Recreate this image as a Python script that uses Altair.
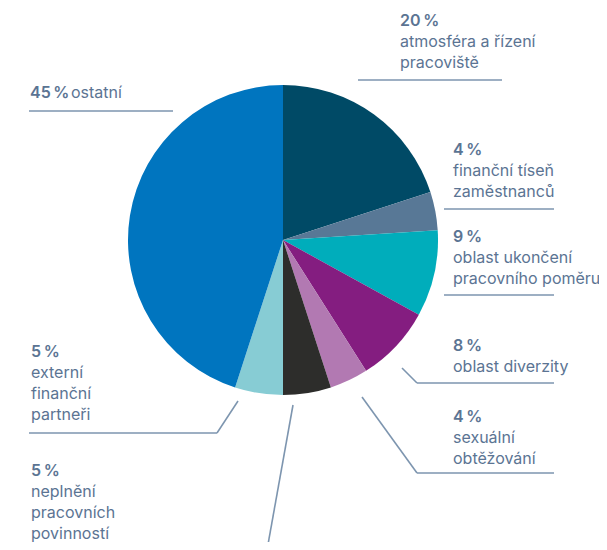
import altair as alt
import pandas as pd

# ---- data ----
categories = [
    "atmosféra a řízení pracoviště",
    "finanční tíseň zaměstnanců",
    "oblast ukončení pracovního poměru",
    "oblast diverzity",
    "sexuální obtěžování",
    "neplnění pracovních povinností",
    "externí finanční partneři",
    "ostatní",
]
values = [20, 4, 9, 8, 4, 5, 5, 45]
colors = ["#004a66", "#587896", "#00adbb", "#841d80", "#b279b2", "#2d2d2b", "#87ccd4", "#0075bf"]
label_lines = [
    ["atmosféra a řízení", "pracoviště"],
    ["finanční tíseň", "zaměstnanců"],
    ["oblast ukončení", "pracovního poměru"],
    ["oblast diverzity"],
    ["sexuální", "obtěžování"],
    ["neplnění", "pracovních", "povinností"],
    ["externí", "finanční", "partneři"],
    ["ostatní"],
]

# ---- layout (image pixel coordinates) ----
CX, CY, R = 283, 240, 155
LINE_H = 21
label_pos = [(400, 26), (453, 155), (453, 242), (453, 351), (453, 422), (31, 476), (31, 357), (30, 98)]
inline_label = [False, False, False, False, False, False, False, True]
inline_offset = 41
segments = [
    (358, 80, 502, 80),
    (444, 209, 554, 209),
    (444, 295, 554, 295),
    (402, 368, 417, 383), (417, 383, 554, 383),
    (362, 397, 417, 473), (417, 473, 554, 473),
    (293, 405, 267, 550),
    (238, 401, 217, 433), (217, 433, 29, 433),
    (29, 111, 173, 111),
]

TEXT_COLOR = "#5b7493"
LINE_COLOR = "#7d95af"
FONT = "Inter"
FS = 16

W, H = 591, 534
xs = alt.Scale(domain=[0, 607], range=[-8, 599])
ys = alt.Scale(domain=[0, 550], range=[-8, 542])

pie_df = pd.DataFrame({"cat": categories, "val": values, "idx": list(range(len(values)))})

pie = alt.Chart(pie_df).mark_arc(outerRadius=R).encode(
    theta=alt.Theta("val:Q", stack=True),
    order=alt.Order("idx:Q"),
    color=alt.Color("cat:N", scale=alt.Scale(domain=categories, range=colors), legend=None),
    x=alt.value(CX - 8),
    y=alt.value(CY - 8),
)

bold_rows, reg_rows = [], []
for i, v in enumerate(values):
    x, y0 = label_pos[i]
    bold_rows.append({"x": x, "y": y0, "t": f"{v}\u202f%"})
    if inline_label[i]:
        reg_rows.append({"x": x + inline_offset, "y": y0, "t": label_lines[i][0]})
    else:
        for j, line in enumerate(label_lines[i]):
            reg_rows.append({"x": x, "y": y0 + LINE_H * (j + 1), "t": line})

bold_text = alt.Chart(pd.DataFrame(bold_rows)).mark_text(
    align="left", baseline="alphabetic", font=FONT, fontSize=FS, fontWeight=600, color=TEXT_COLOR
).encode(x=alt.X("x:Q", scale=xs, axis=None), y=alt.Y("y:Q", scale=ys, axis=None), text="t:N")

reg_text = alt.Chart(pd.DataFrame(reg_rows)).mark_text(
    align="left", baseline="alphabetic", font=FONT, fontSize=FS, fontWeight=400, color=TEXT_COLOR
).encode(x=alt.X("x:Q", scale=xs, axis=None), y=alt.Y("y:Q", scale=ys, axis=None), text="t:N")

seg_df = pd.DataFrame(segments, columns=["x1", "y1", "x2", "y2"])
rules = alt.Chart(seg_df).mark_rule(color=LINE_COLOR, strokeWidth=1.6).encode(
    x=alt.X("x1:Q", scale=xs, axis=None),
    y=alt.Y("y1:Q", scale=ys, axis=None),
    x2="x2:Q",
    y2="y2:Q",
)

chart = alt.layer(pie, rules, bold_text, reg_text).resolve_scale(
    x="shared", y="shared"
).properties(
    width=W, height=H, padding=0, autosize=alt.AutoSizeParams(type="none")
).configure_view(stroke=None)

chart.save("out.html", embed_options={"renderer": "svg", "actions": False})
